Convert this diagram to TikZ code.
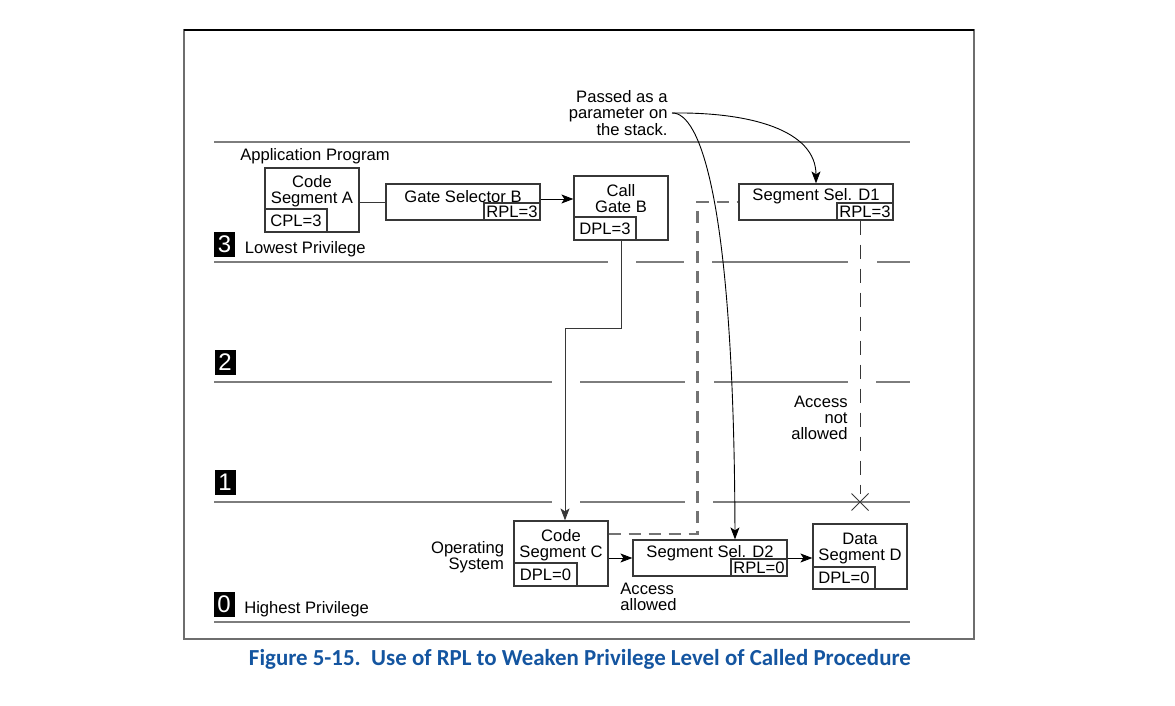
\documentclass[tikz,border=0pt]{standalone}
\usepackage{fontspec}
\usepackage{graphicx}
\setmainfont{Liberation Sans}
\newfontfamily\capfont{Carlito}
\usepackage{tikz}
\usetikzlibrary{arrows.meta,positioning,calc,shapes.misc}
\definecolor{framegray}{RGB}{110,110,110}
\definecolor{linegray}{RGB}{125,125,125}
\definecolor{boxgray}{RGB}{55,55,55}
\definecolor{dashgray}{RGB}{115,115,115}
\definecolor{capblue}{RGB}{20,85,160}
\newcommand{\lblfont}{\fontsize{8.3}{8.1}\selectfont}
\tikzset{
  segbox/.style={draw=boxgray, line width=0.6pt, inner sep=0pt, minimum width=47pt},
  selbox/.style={draw=boxgray, line width=0.6pt, inner sep=0pt, minimum width=77pt, minimum height=18pt},
  plbox/.style={draw=boxgray, line width=0.6pt, inner sep=0pt, minimum width=31pt, minimum height=11.5pt},
  rplbox/.style={draw=boxgray, line width=0.6pt, inner sep=0pt, minimum width=28pt, minimum height=8.5pt},
  txt/.style={inner sep=0pt, align=center},
  badge/.style={fill=black, text=white, inner sep=0pt, minimum width=10.5pt, minimum height=12.5pt,
    font=\fontsize{12}{12}\selectfont},
  levelline/.style={draw=linegray, line width=0.6pt},
  flow/.style={-{Stealth[length=6pt,width=4.5pt,inset=1.5pt]}, line width=0.45pt},
  plain/.style={draw=boxgray, line width=0.45pt},
  heavydash/.style={draw=dashgray, line width=1.1pt, dash pattern=on 6pt off 4pt},
  thindash/.style={draw=boxgray, line width=0.5pt, dash pattern=on 7pt off 5pt}
}
\begin{document}
\begin{tikzpicture}[x=0.5pt, y=-0.5pt, font=\lblfont]
\useasboundingbox (0,0) rectangle (1175,706);

% frame
\draw[framegray, line width=0.8pt] (184,30) rectangle (974,639);
\draw[black, line width=0.6pt] (184,30) -- (974,30);

% privilege levels
\draw[levelline] (214,142) -- (910,142);
\draw[levelline] (214,262) -- (608,262) (636,262) -- (684,262) (712,262) -- (848,262) (877,262) -- (910,262);
\draw[levelline] (214,382) -- (552,382) (580,382) -- (685,382) (714,382) -- (848,382) (876,382) -- (910,382);
\draw[levelline] (214,502) -- (552,502) (580,502) -- (685,502) (713,502) -- (910,502);
\draw[levelline] (214,622) -- (910,622);

\node[badge] (lv3) at (224.5,244.5) {3};
\node[txt, right=4.5pt of lv3, yshift=-2.5pt] (lv3txt) {Lowest Privilege};
\node[badge] (lv2) at (225,362.5) {2};
\node[badge] (lv1) at (225,482.5) {1};
\node[badge] (lv0) at (224,604.5) {0};
\node[txt, right=4.5pt of lv0, yshift=-2.5pt] (lv0txt) {Highest Privilege};

% application program
\node[txt] (app) at (315,156) {Application Program};
\node[segbox, minimum height=32pt] (csa) at (312,200) {};
\node[txt] (csatxt) at ([yshift=-12pt]csa.north) {Code\\Segment A};
\node[plbox, anchor=south west] (csapl) at (csa.south west) {CPL=3};

\node[selbox] (gsb) at (463,202) {};
\node[txt] (gsbtxt) at ([yshift=-6.5pt]gsb.north) {Gate Selector B};
\node[rplbox, anchor=south east] (gsbpl) at (gsb.south east) {RPL=3};

\node[segbox, minimum height=32pt] (cgb) at (621,208) {};
\node[txt] (cgbtxt) at ([yshift=-11.5pt]cgb.north) {Call\\Gate B};
\node[plbox, anchor=south west] (cgbpl) at (cgb.south west) {DPL=3};

\node[selbox] (ssd1) at (816,202) {};
\node[txt] (ssd1txt) at ([yshift=-6.5pt]ssd1.north) {Segment Sel. D1};
\node[rplbox, anchor=south east] (ssd1pl) at (ssd1.south east) {RPL=3};

\node[txt, inner sep=2pt, align=right, anchor=east] (pass) at (672,113) {Passed as a\\parameter on\\the stack.};

% operating system
\node[segbox, minimum height=32.5pt] (csc) at (561,553.5) {};
\node[txt] (csctxt) at ([yshift=-12.5pt]csc.north) {Code\\Segment C};
\node[plbox, minimum width=31.5pt, anchor=south west] (cscpl) at (csc.south west) {DPL=0};
\node[txt, align=right, left=4.5pt of csc, yshift=-2pt] (os) {Operating\\System};

\node[selbox] (ssd2) at (710,558) {};
\node[txt] (ssd2txt) at ([yshift=-7pt]ssd2.north) {Segment Sel. D2};
\node[rplbox, anchor=south east] (ssd2pl) at (ssd2.south east) {RPL=0};

\node[segbox, minimum height=32.5pt] (dsd) at (860,556.5) {};
\node[txt] (dsdtxt) at ([yshift=-12.5pt]dsd.north) {Data\\Segment D};
\node[plbox, minimum height=11pt, anchor=south west] (dsdpl) at (dsd.south west) {DPL=0};

\node[txt, align=left, anchor=west] (okay) at (620,597) {Access\\allowed};
\node[txt, align=right, anchor=east] (notok) at (848,418) {Access\\not\\allowed};
\node[cross out, draw=boxgray, line width=0.5pt, minimum size=8pt, inner sep=0pt] (deny) at (860,502) {};

% connectors
\draw[plain] (csa.east |- gsb.west) -- (gsb.west);
\draw[flow] ([yshift=1.5pt]gsb.east) -- ([yshift=1.5pt]gsb.east -| cgb.west);
\draw[flow, draw=boxgray] (cgb.south) -- ++(0,88) -| ([xshift=2pt]csc.north);
\draw[heavydash] ([yshift=9.75pt]csc.east) -| ([xshift=-20.5pt]ssd1.west) -- (ssd1.west);
\draw[flow] (csc.east |- ssd2.west) -- (ssd2.west);
\draw[flow] (ssd2.east) -- (ssd2.east -| dsd.west);
\draw[flow] (pass.east) .. controls (750,112) and (816,130) .. (ssd1.north);
\draw[flow] (pass.east) .. controls (700,112) and (734,200) .. ([xshift=12.5pt]ssd2.north);
\draw[thindash] (ssd1pl.south -| deny) -- (deny.north);

% caption
\node[txt, text=capblue] (cap) at (580,659)
  {\resizebox*{331pt}{10pt}{\capfont\bfseries Figure 5-15.\ \ Use of RPL to Weaken Privilege Level of Called Procedure}};
\end{tikzpicture}
\end{document}
